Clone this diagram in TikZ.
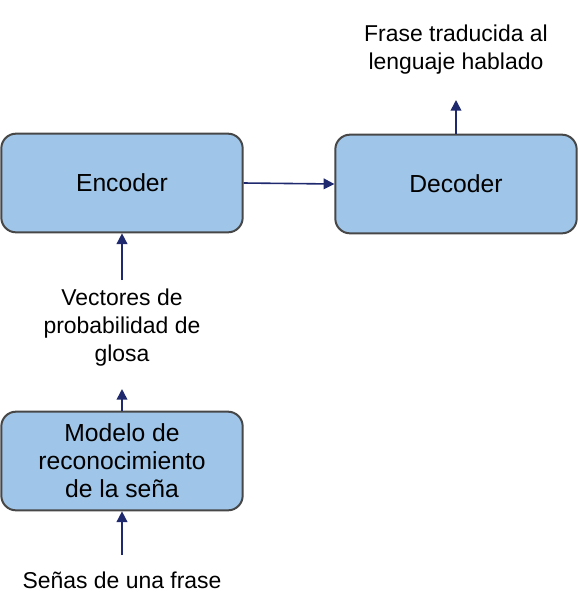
\documentclass[tikz,border=0pt]{standalone}
\usepackage{fontspec}
\setmainfont{Liberation Sans}
\usetikzlibrary{arrows.meta}
\definecolor{boxfill}{HTML}{9FC5E8}
\definecolor{boxline}{HTML}{474747}
\definecolor{arrowc}{HTML}{1F2A6E}
\begin{document}
\begin{tikzpicture}[x=0.75pt,y=-0.75pt,
  blockbox/.style={draw=boxline,fill=boxfill,line width=1.5pt,rounded corners=11pt,
    minimum width=181pt,minimum height=74pt,inner sep=0pt,align=center,font=\fontsize{18.5}{21}\selectfont},
  lbl/.style={align=center,inner sep=0pt,font=\fontsize{17.2}{21}\selectfont},
  arr/.style={draw=arrowc,line width=1.2pt,-{Triangle[length=8pt,width=8pt]}}]
\useasboundingbox (0,0) rectangle (578,608);
\node[blockbox] (enc) at (122,183) {Encoder};
\node[blockbox] (dec) at (456,184) {Decoder};
\node[blockbox] (mod) at (122,461) {Modelo de\\reconocimiento\\de la seña};
\node[lbl] (out) at (456,50) {Frase traducida al\\lenguaje hablado};
\node[lbl] (vec) at (122,328) {Vectores de\\probabilidad de\\glosa};
\node[lbl] (inp) at (122,580) {Señas de una frase};
\coordinate (outa) at (456,100);
\coordinate (veca) at (122,280);
\coordinate (moda) at (122,389);
\coordinate (inpa) at (122,555);
\draw[arr] (enc.east) -- (dec.west);
\draw[arr] (dec.north) -- (outa);
\draw[arr] (veca) -- (enc.south);
\draw[arr] (mod.north) -- (moda);
\draw[arr] (inpa) -- (mod.south);
\end{tikzpicture}
\end{document}
